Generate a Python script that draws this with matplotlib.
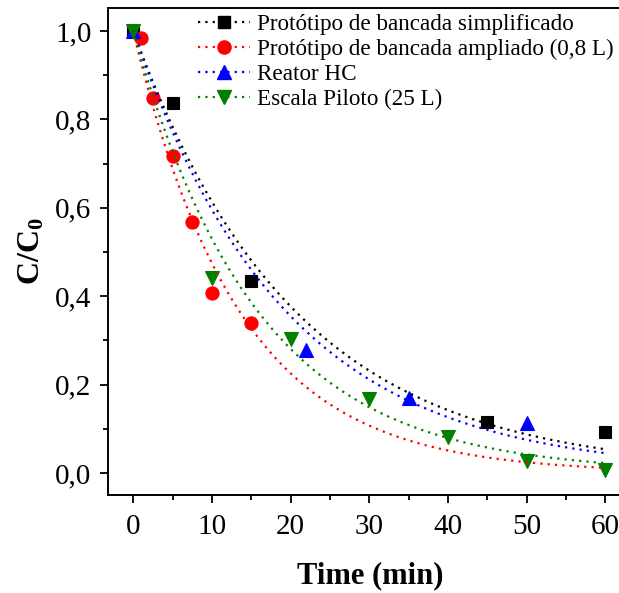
import numpy as np
import matplotlib
matplotlib.use("Agg")
import matplotlib.pyplot as plt
from matplotlib.ticker import MultipleLocator, FuncFormatter
from matplotlib.lines import Line2D

plt.rcParams['font.family'] = ['Liberation Serif', 'DejaVu Serif']
plt.rcParams['mathtext.fontset'] = 'custom'
plt.rcParams['mathtext.rm'] = 'Liberation Serif'
plt.rcParams['mathtext.bf'] = 'Liberation Serif:bold'

# ---- data ----
labels = ["Protótipo de bancada simplificado",
          "Protótipo de bancada ampliado (0,8 L)",
          "Reator HC",
          "Escala Piloto (25 L)"]
colors = ["black", "red", "blue", "green"]
markers = ["s", "o", "^", "v"]
msizes = [8.3, 9.5, 9.5, 9.5]

t_simpl = [0, 5, 15, 45, 60]
c_simpl = [1.0, 0.837, 0.434, 0.116, 0.093]

t_ampl = [1, 2.5, 5, 7.5, 10, 15]
c_ampl = [0.984, 0.848, 0.717, 0.568, 0.408, 0.339]

t_hc = [0, 22, 35, 50]
c_hc = [1.0, 0.278, 0.170, 0.113]

t_pil = [0, 10, 20, 30, 40, 50, 60]
c_pil = [1.0, 0.442, 0.303, 0.168, 0.082, 0.028, 0.006]

# first-order fit rate constants
k_fit = [0.0488, 0.0745, 0.0518, 0.0635]

series = [(t_simpl, c_simpl), (t_ampl, c_ampl), (t_hc, c_hc), (t_pil, c_pil)]

xticks = [0, 10, 20, 30, 40, 50, 60]
xminor = [5, 15, 25, 35, 45, 55]
yticks = [0.0, 0.2, 0.4, 0.6, 0.8, 1.0]

fig = plt.figure(figsize=(6.19, 5.93), dpi=100)
L, R, B, T = 108/619, 684/619, 1 - 495/593, 1 - 8/593
ax = fig.add_axes([L, B, R - L, T - B])

tt = np.linspace(0, 60, 300)
dots = (0, (1, 2.3))
for (t, c), col, mk, ms in zip(series, colors, markers, msizes):
    ax.plot(t, c, linestyle='none', marker=mk, color=col, markersize=ms,
            markeredgewidth=0.8, markeredgecolor=col, zorder=2, clip_on=False)
for col, k in zip(colors, k_fit):
    ax.plot(tt, np.exp(-k * tt), linestyle=dots, color=col, lw=1.6, zorder=3)

ax.set_xlim(-3.2, 70)
ax.set_ylim(-0.05, 1.052)
ax.set_xticks(xticks)
ax.set_xticks(xminor, minor=True)
ax.yaxis.set_minor_locator(MultipleLocator(0.1))
ax.set_yticks(yticks)
ax.yaxis.set_major_formatter(FuncFormatter(lambda v, p: f"{v:.1f}".replace('.', ',')))
ax.tick_params(which='major', direction='out', length=6, width=1.3, labelsize=21, pad=6)
ax.tick_params(which='minor', direction='out', length=3.5, width=1.3)
ax.tick_params(axis='x', pad=8)
for s in ax.spines.values():
    s.set_linewidth(1.4)
ax.spines['right'].set_visible(False)

ax.set_xlabel("Time (min)", fontsize=22, fontweight='bold')
ax.xaxis.set_label_coords((370 - 108) / (684 - 108), -0.136)
ax.set_ylabel(r"$\mathbf{C/C_0}$", fontsize=23, labelpad=6)

handles = [Line2D([], [], color=col, linestyle=dots, lw=1.6, marker=mk, markersize=ms,
                  markeredgecolor=col)
           for col, mk, ms in zip(colors, markers, msizes)]
fig.legend(handles, labels, loc='upper left', bbox_to_anchor=(198/619, 1 - 13.5/593),
           frameon=False, fontsize=16.7, handlelength=2.24, handletextpad=0.3,
           labelspacing=0.17, borderpad=0, borderaxespad=0, numpoints=1)

fig.savefig("out.png", dpi=100)
